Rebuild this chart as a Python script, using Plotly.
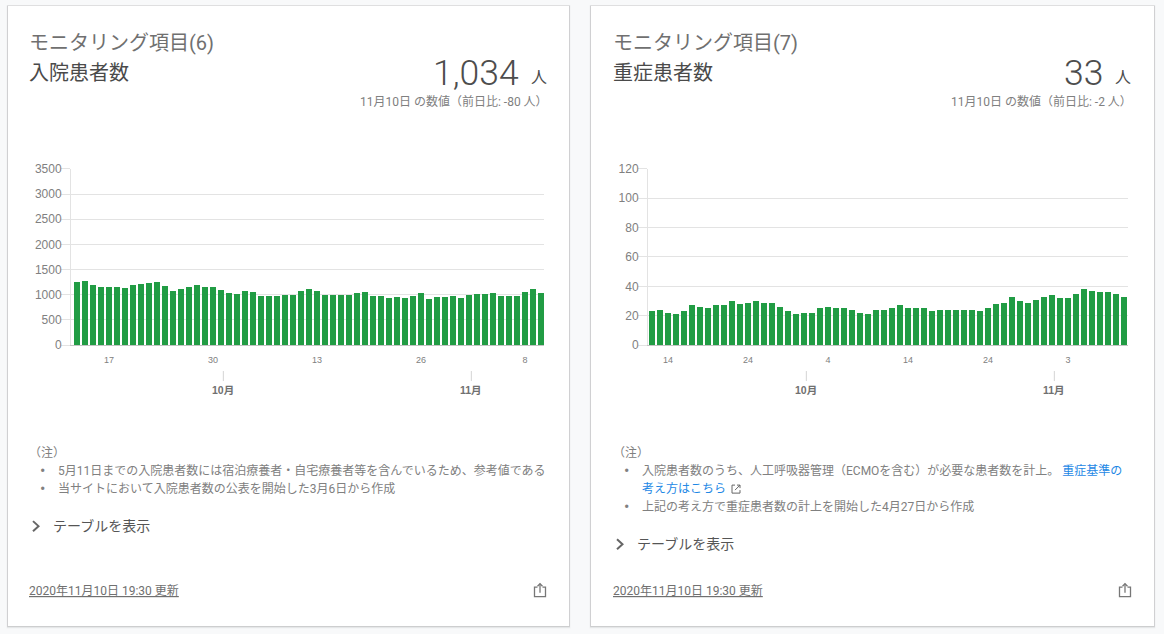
#!/usr/bin/env python
import pandas as pd
import plotly.graph_objects as go

W, H = 1164, 634
SANS = "Roboto, Noto Sans CJK JP, sans-serif"
CHART = "Liberation Sans, Noto Sans CJK JP, sans-serif"
GREEN = "#219c44"
GRID = "#e3e3e3"
TOP = 7.2  # the plot area comes out this far inside the page, top and bottom

### DATA

inpatients = [1255, 1282, 1195, 1150, 1155, 1150, 1135, 1195, 1222, 1228, 1248, 1168,
              1075, 1108, 1155, 1195, 1155, 1162, 1095, 1042, 1016, 1069, 1055, 976,
              976, 976, 1002, 1002, 1075, 1108, 1069, 1002, 990, 990, 990, 1042,
              1050, 976, 983, 936, 956, 936, 970, 1029, 923, 950, 963, 970,
              936, 1002, 1023, 1016, 1036, 970, 970, 983, 1050, 1114, 1034]

severe = [23, 24, 22, 21, 23, 27, 26, 25, 27, 27, 30, 28, 29, 30, 29, 29, 26, 23, 21, 22,
          22, 25, 26, 25, 25, 24, 22, 21, 24, 24, 25, 27, 25, 25, 25, 23, 24, 24, 24, 24,
          24, 23, 25, 28, 29, 33, 30, 29, 31, 33, 34, 32, 32, 35, 38, 37, 36, 36, 35, 33]

### HELPERS

def px(x):
    return x / W

def py(y):
    return 1 - (y - TOP) / (H - 2 * TOP)

def label(x, y, text, size=12, color="#808080", anchor="left", family=SANS, weight=None):
    return dict(xref="paper", yref="paper", x=px(x), y=py(y + 0.8), text=text, showarrow=False,
                xanchor=anchor, yanchor="middle", borderpad=0, borderwidth=0,
                font=dict(size=size, color=color, family=family, weight=weight))

def rect(x0, y0, x1, y1, fill):
    return dict(type="rect", xref="paper", yref="paper", layer="below",
                x0=px(x0), y0=py(y0), x1=px(x1), y1=py(y1),
                fillcolor=fill, line=dict(width=0))

def outline(points, color="#666666", width=1.3):
    path = "M" + " L".join("%.5f,%.5f" % (px(a), py(b)) for a, b in points)
    return dict(type="path", xref="paper", yref="paper", path=path,
                line=dict(color=color, width=width))

def card(x0, x1):
    out = []
    for grow, fill in [(3, "#f0f1f2"), (2, "#e2e3e4"), (1, "#bdbebf")]:
        out.append(rect(x0 - grow * 0.5, 6 - grow * 0.2, x1 + grow * 0.5, 626 + grow * 0.8, fill))
    out.append(rect(x0, 6, x1, 626, "#ffffff"))
    return out

def share_icon(cx, cy):
    return [
        outline([(cx - 2.5, cy - 3), (cx - 5.5, cy - 3), (cx - 5.5, cy + 6.5), (cx + 5.5, cy + 6.5),
                 (cx + 5.5, cy - 3), (cx + 2.5, cy - 3)], color="#777777"),
        outline([(cx, cy + 2.5), (cx, cy - 6.5)], color="#777777"),
        outline([(cx - 2.5, cy - 4), (cx, cy - 6.5), (cx + 2.5, cy - 4)], color="#777777"),
    ]

def chevron(cx, cy):
    return [outline([(cx - 3, cy - 5), (cx + 2.5, cy), (cx - 3, cy + 5)], color="#666666", width=2)]

def link_icon(cx, cy):
    return [
        outline([(cx - 1, cy - 4), (cx - 4, cy - 4), (cx - 4, cy + 4), (cx + 4, cy + 4), (cx + 4, cy + 1)], width=1),
        outline([(cx - 1, cy + 1), (cx + 4, cy - 4)], width=1),
        outline([(cx + 1, cy - 4), (cx + 4, cy - 4), (cx + 4, cy - 1)], width=1),
    ]

### RENDER

fig = go.Figure()

panels = [
    dict(values=inpatients, start="2020-09-13", first_bar=77, left=71, right=544,
         ymax=3500, dtick=500, days=["2020-09-17", "2020-09-30", "2020-10-13", "2020-10-26", "2020-11-08"]),
    dict(values=severe, start="2020-09-12", first_bar=652, left=648, right=1128,
         ymax=120, dtick=20, days=["2020-09-14", "2020-09-24", "2020-10-04", "2020-10-14", "2020-10-24", "2020-11-03"]),
]

layout_axes = {}
month_shapes = []
month_labels = []
for n, p in enumerate(panels):
    start = pd.Timestamp(p["start"])
    dates = pd.date_range(start, periods=len(p["values"]), freq="D")
    x_range = [start + pd.Timedelta(days=(p["left"] - p["first_bar"]) / 8),
               start + pd.Timedelta(days=(p["right"] - p["first_bar"]) / 8)]
    xname = "x" if n == 0 else "x%d" % (n + 1)
    yname = "y" if n == 0 else "y%d" % (n + 1)
    fig.add_trace(go.Bar(x=dates, y=p["values"], width=0.75 * 86400000, marker=dict(color=GREEN, line=dict(width=0)),
                         xaxis=xname, yaxis=yname, hoverinfo="x+y", showlegend=False))
    domain = [px(p["left"]), px(p["right"])]
    layout_axes["xaxis" if n == 0 else "xaxis%d" % (n + 1)] = dict(
        domain=domain, range=x_range, type="date", anchor=yname, showgrid=False,
        tickmode="array", tickvals=p["days"], ticktext=[str(pd.Timestamp(d).day) for d in p["days"]],
        ticks="", showline=True, linecolor="#c4c4c4", linewidth=1, ticklabelstandoff=6,
        tickfont=dict(size=9, color="#808080", family=CHART), zeroline=False)
    layout_axes["yaxis" if n == 0 else "yaxis%d" % (n + 1)] = dict(
        domain=[py(345), py(169)], range=[0, p["ymax"]], dtick=p["dtick"], anchor=xname,
        showline=True, linecolor=GRID, gridcolor=GRID, gridwidth=1, zeroline=False,
        ticks="outside", ticklen=9, tickcolor=GRID, ticklabelstandoff=-3,
        tickfont=dict(size=12, color="#808080", family=CHART))
    # month markers sit below the day labels
    for stamp, text in [("2020-10-01 07:00", "<b>10月</b>"), ("2020-11-01 07:00", "<b>11月</b>")]:
        month_shapes.append(dict(type="line", xref=xname, yref="paper", x0=stamp, x1=stamp,
                                 y0=py(371), y1=py(381), line=dict(color="#d4d4d4", width=1)))
        month_labels.append(dict(xref=xname, yref="paper", x=stamp, y=py(390), text=text, showarrow=False,
                                 xanchor="center", yanchor="middle",
                                 font=dict(size=10.5, color="#707070", family=CHART)))

BLUE = "#1e88e5"
annotations = month_labels + [
    # left card
    label(29, 42, "モニタリング項目(6)", 20, "#707070"),
    label(29, 72, "入院患者数", 20, "#4a4a4a"),
    label(519, 72, "1,034", 35.5, "#4d4d4d", "right", weight=300),
    label(547, 77, "人", 16, "#4d4d4d", "right"),
    label(548, 101, "11月10日 の数値（前日比: -80 人）", 12, "#808080", "right"),
    label(29, 452, "（注）", 12),
    label(39.5, 470, "•", 16), label(58, 470, "5月11日までの入院患者数には宿泊療養者・自宅療養者等を含んでいるため、参考値である", 12),
    label(39.5, 488, "•", 16), label(58, 488, "当サイトにおいて入院患者数の公表を開始した3月6日から作成", 12),
    label(53, 525, "テーブルを表示", 14, "#555555"),
    label(29, 590, "<u>2020年11月10日 19:30 更新</u>", 12, "#707070"),
    # right card
    label(613, 42, "モニタリング項目(7)", 20, "#707070"),
    label(613, 72, "重症患者数", 20, "#4a4a4a"),
    label(1103, 72, "33", 35.5, "#4d4d4d", "right", weight=300),
    label(1131, 77, "人", 16, "#4d4d4d", "right"),
    label(1132, 101, "11月10日 の数値（前日比: -2 人）", 12, "#808080", "right"),
    label(613, 452, "（注）", 12),
    label(624, 470, "•", 16),
    label(642, 470, "入院患者数のうち、人工呼吸器管理（ECMOを含む）が必要な患者数を計上。 <span style=\"color:%s\">重症基準の</span>" % BLUE, 12),
    label(642, 488, "考え方はこちら", 12, BLUE),
    label(624, 506, "•", 16), label(642, 506, "上記の考え方で重症患者数の計上を開始した4月27日から作成", 12),
    label(637, 543, "テーブルを表示", 14, "#555555"),
    label(613, 590, "<u>2020年11月10日 19:30 更新</u>", 12, "#707070"),
]

shapes = card(8, 569) + card(591, 1154) + month_shapes
shapes += chevron(36, 526) + chevron(620, 544)
shapes += share_icon(540, 590) + share_icon(1125, 590)
shapes += link_icon(736, 489)

fig.update_layout(width=W, height=H, margin=dict(l=0, r=0, t=0, b=0), autosize=False,
                  paper_bgcolor="#f8f9fa", plot_bgcolor="rgba(0,0,0,0)", bargap=0,
                  showlegend=False, shapes=shapes, annotations=annotations,
                  font=dict(family=SANS), **layout_axes)

fig.write_html("out.html", config=dict(displayModeBar=False),
               post_script="document.body.style.margin='0';document.body.style.overflow='hidden';")
